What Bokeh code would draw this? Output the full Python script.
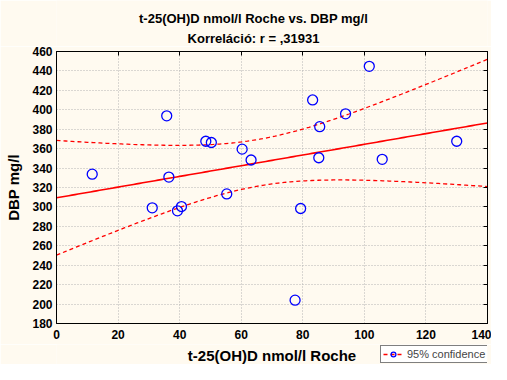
import numpy as np
from bokeh.plotting import figure
from bokeh.layouts import column
from bokeh.models import (Label, Legend, LegendItem, LinearAxis, FixedTicker,
                          Range1d, ColumnDataSource)
from bokeh.embed import file_html
from bokeh.resources import INLINE

# ---- data ----
x_vals = [11.6, 35.8, 48.5, 50.3, 60.3, 63.2, 36.5, 55.3, 31.1, 39.3,
          40.6, 101.6, 83.2, 93.9, 85.5, 130.0, 85.2, 105.8, 79.3, 77.5]
y_vals = [333.7, 393.8, 367.6, 366.3, 359.5, 348.3, 330.7, 313.4, 299.1, 296.0,
          300.4, 444.7, 410.1, 395.8, 382.6, 367.6, 350.6, 349.0, 298.4, 204.0]
x_ticks = [0, 20, 40, 60, 80, 100, 120, 140]
y_ticks = [180, 200, 220, 240, 260, 280, 300, 320, 340, 360, 380, 400, 420, 440, 460]
title_line1 = "t-25(OH)D nmol/l Roche vs. DBP mg/l"
title_line2 = "Korreláció: r = ,31931"
x_label = "t-25(OH)D nmol/l Roche"
y_label = "DBP mg/l"
legend_label = "95% confidence"
t_crit = 2.1009  # Student t, 0.975, df = 18

# ---- regression & 95% confidence band ----
xa = np.array(x_vals)
ya = np.array(y_vals)
n = len(xa)
xm, ym = xa.mean(), ya.mean()
sxx = ((xa - xm) ** 2).sum()
b = ((xa - xm) * (ya - ym)).sum() / sxx
a = ym - b * xm
resid = ya - (a + b * xa)
s = np.sqrt((resid ** 2).sum() / (n - 2))
xg = np.linspace(x_ticks[0], x_ticks[-1], 141)
yg = a + b * xg
half = t_crit * s * np.sqrt(1.0 / n + (xg - xm) ** 2 / sxx)
fit = dict(x=xg, y=yg, lo=yg - half, hi=yg + half)

BG = "#FFFAF0"
FONT = "Liberation Sans"
W = 491
LEFT, RIGHT = 56, 4
FRAME_W = W - LEFT - RIGHT   # strips share the main plot's frame (column alignment)

# ---- title strip ----
pt = figure(width=W, height=46, output_backend="svg", toolbar_location=None,
            x_axis_type=None, y_axis_type=None,
            x_range=Range1d(0, 1), y_range=Range1d(0, 1), min_border=0,
            background_fill_color=BG, border_fill_color=BG)
pt.grid.visible = False
pt.outline_line_color = None
for txt, yy in ((title_line1, 28), (title_line2, 8)):
    pt.add_layout(Label(x=253 - LEFT, y=yy, x_units="screen", y_units="screen", text=txt,
                        text_align="center", text_baseline="middle",
                        text_font=FONT, text_font_style="bold",
                        text_font_size="13px", text_color="black"))

# ---- main plot ----
p = figure(width=W, height=298, output_backend="svg", toolbar_location=None,
           x_range=Range1d(0, 140), y_range=Range1d(180, 460),
           min_border_left=LEFT, min_border_right=RIGHT, min_border_top=5,
           min_border_bottom=21,
           background_fill_color=BG, border_fill_color=BG)
p.outline_line_color = "black"
p.outline_line_width = 1

for ax in (p.xaxis[0], p.yaxis[0]):
    ax.major_label_text_font = FONT
    ax.major_label_text_font_style = "bold"
    ax.major_label_text_font_size = "12px"
    ax.major_label_text_color = "black"
    ax.axis_label_text_font = FONT
    ax.axis_label_text_font_style = "bold"
    ax.axis_label_text_font_size = "15px"
    ax.axis_label_text_color = "black"
    ax.major_tick_out = 0
    ax.major_tick_in = 0
    ax.minor_tick_out = 0
    ax.minor_tick_in = 0
    ax.axis_line_color = "black"
p.xaxis[0].ticker = FixedTicker(ticks=x_ticks)
p.yaxis[0].ticker = FixedTicker(ticks=y_ticks)
p.yaxis[0].axis_label = y_label
p.xaxis[0].major_label_standoff = 6
p.yaxis[0].major_label_standoff = 4
p.yaxis[0].axis_label_standoff = 7

top = LinearAxis(ticker=FixedTicker(ticks=x_ticks), major_label_text_font_size="0px",
                 major_tick_in=4, major_tick_out=0, minor_tick_in=0, minor_tick_out=0,
                 axis_line_color="black", major_label_standoff=0)
right = LinearAxis(ticker=FixedTicker(ticks=y_ticks), major_label_text_font_size="0px",
                   major_tick_in=4, major_tick_out=0, minor_tick_in=0, minor_tick_out=0,
                   axis_line_color="black", major_label_standoff=0)
p.add_layout(top, "above")
p.add_layout(right, "right")

p.xgrid.ticker = FixedTicker(ticks=x_ticks)
p.ygrid.ticker = FixedTicker(ticks=y_ticks)
for g in (p.xgrid[0], p.ygrid[0]):
    g.grid_line_color = "#B4B4B4"
    g.grid_line_dash = "1 2"
    g.grid_line_width = 1

src = ColumnDataSource(fit)
p.line("x", "y", source=src, line_color="red", line_width=1.6)
p.line("x", "hi", source=src, line_color="red", line_width=1.3, line_dash="4 3")
p.line("x", "lo", source=src, line_color="red", line_width=1.3, line_dash="4 3")
p.scatter(x_vals, y_vals, marker="circle", size=10, fill_color=None,
          line_color="blue", line_width=1.3)

# ---- bottom strip: x-axis title and legend ----
pb = figure(width=W, height=20, output_backend="svg", toolbar_location=None,
            x_axis_type=None, y_axis_type=None,
            x_range=Range1d(0, 140), y_range=Range1d(0, 1), min_border=0,
            background_fill_color=BG, border_fill_color=BG)
pb.grid.visible = False
pb.outline_line_color = None
lsrc = ColumnDataSource(fit)
leg_line = pb.line("x", "hi", source=lsrc, line_color="red", line_width=1.3,
                   line_dash="4 3")
leg_pts = pb.scatter(x_vals, y_vals, marker="circle", size=10, fill_color=None,
                     line_color="blue", line_width=1.3)
pb.add_layout(Label(x=FRAME_W / 2, y=9, x_units="screen", y_units="screen",
                    text=x_label, text_align="center", text_baseline="middle",
                    text_font=FONT, text_font_style="bold", text_font_size="15px",
                    text_color="black"))
legend = Legend(items=[LegendItem(label=legend_label, renderers=[leg_line, leg_pts])],
                location=(FRAME_W - 107, 1), orientation="vertical",
                background_fill_color="white", background_fill_alpha=1,
                border_line_color="black", border_line_width=1,
                label_text_font=FONT, label_text_font_size="11px",
                label_height=12, glyph_height=12, glyph_width=20,
                label_standoff=4, padding=2, margin=0, spacing=0)
pb.add_layout(legend, "center")

layout = column(pt, p, pb, spacing=0)
html = file_html(layout, INLINE).replace(
    "<body>", '<body style="background-color:#FFFAF0;">', 1)
open("out.html", "w").write(html)
